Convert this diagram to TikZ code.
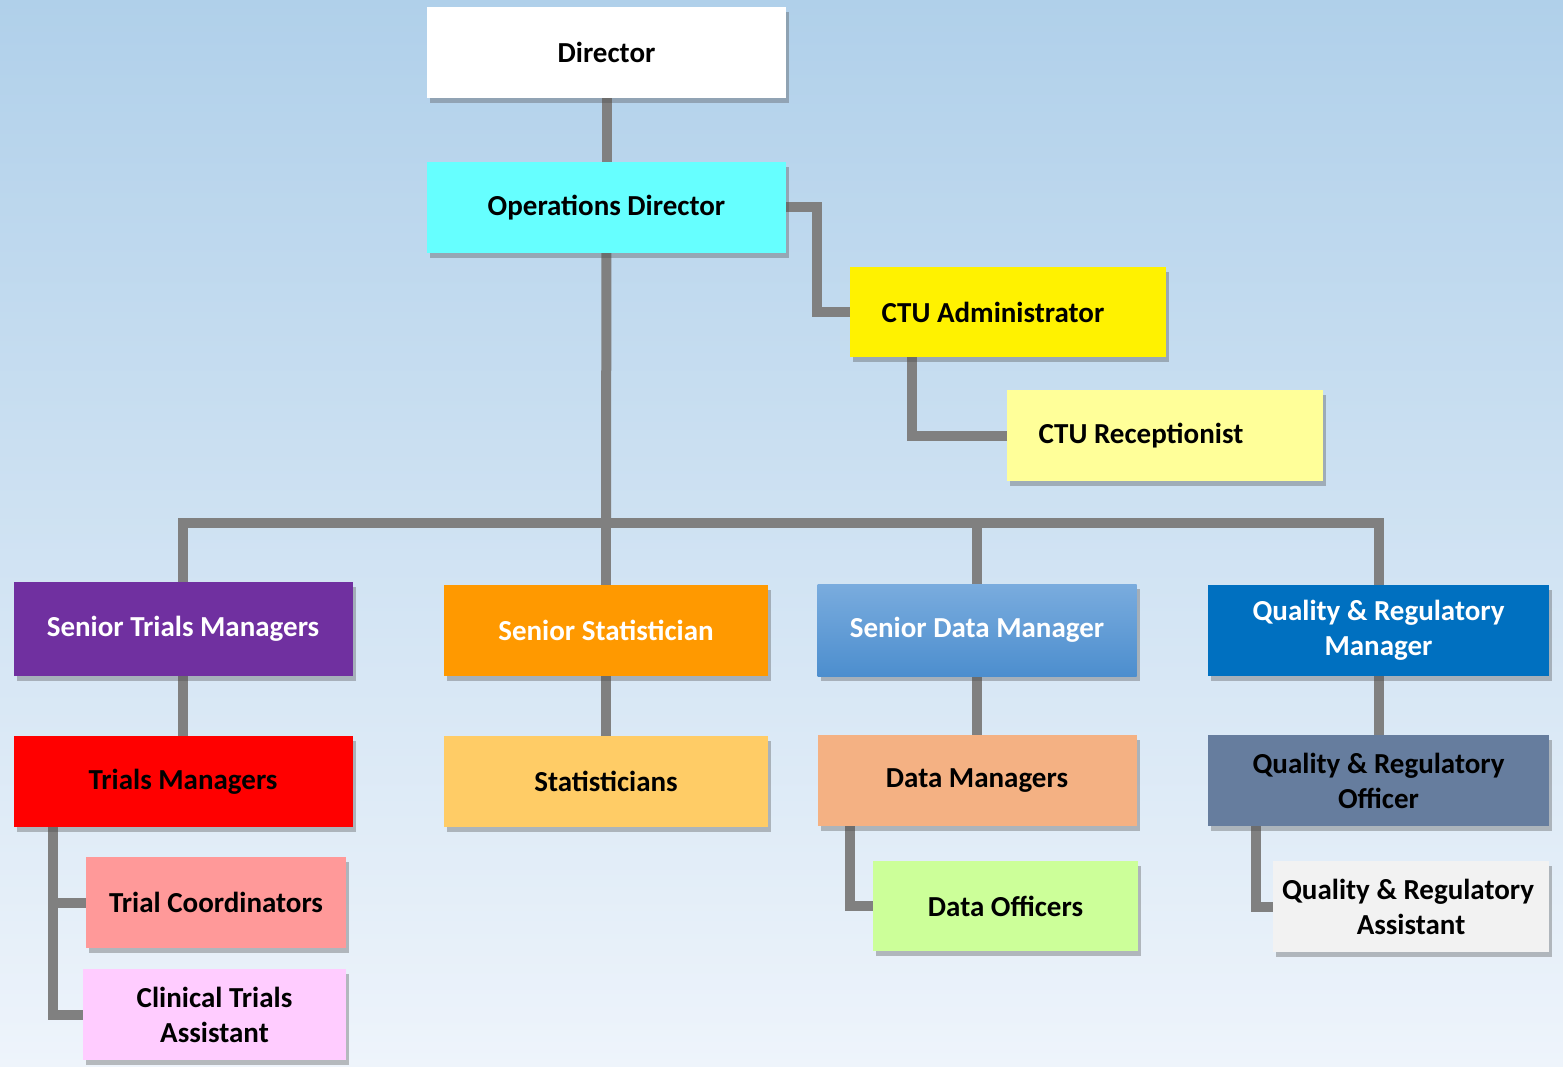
\documentclass[tikz,border=0pt]{standalone}
\usepackage{fontspec}
\setmainfont{Carlito}
\usetikzlibrary{shadows}
\pgfdeclarelayer{bg}
\pgfdeclarelayer{links}
\pgfsetlayers{bg,links,main}
\definecolor{skytop}{RGB}{176,208,234}
\definecolor{skybot}{RGB}{238,244,251}
\definecolor{linkgray}{RGB}{128,128,128}
\definecolor{opscyan}{RGB}{102,255,255}
\definecolor{paleyellow}{RGB}{255,255,153}
\definecolor{stmpurple}{RGB}{112,48,160}
\definecolor{ssorange}{RGB}{255,153,0}
\definecolor{sdmtop}{RGB}{122,172,222}
\definecolor{sdmbot}{RGB}{76,142,206}
\definecolor{qrmblue}{RGB}{0,112,192}
\definecolor{statsgold}{RGB}{255,204,102}
\definecolor{dmpeach}{RGB}{244,177,131}
\definecolor{qroslate}{RGB}{102,125,158}
\definecolor{tcpink}{RGB}{255,153,153}
\definecolor{ctalilac}{RGB}{255,204,255}
\definecolor{dolime}{RGB}{204,255,153}
\definecolor{qragray}{RGB}{242,242,242}
\tikzset{
  post/.style={rectangle, inner sep=0pt, minimum height=91pt, align=center,
    font=\bfseries\fontsize{29}{35}\selectfont,
    drop shadow={shadow xshift=3pt, shadow yshift=-5pt, opacity=.35, fill=black!70}},
  link/.style={draw=linkgray, line width=10pt}
}
\begin{document}
\begin{tikzpicture}[x=1pt, y=-1pt]
    % background
    \begin{pgfonlayer}{bg}
        \shade[top color=skytop, bottom color=skybot] (0, 0) rectangle (1563, 1067);
    \end{pgfonlayer}
    \useasboundingbox (0, 0) rectangle (1563, 1067);

    % top
    \node[post, fill=white, minimum width=359pt] (dir) at (606.5, 52.5) {Director};
    \node[post, fill=opscyan, minimum width=359pt] (ops) at (606.5, 207.5) {Operations Director};
    \node[post, fill=yellow, minimum width=316pt, minimum height=90pt] (admin) at (1008, 312) {\hspace*{-30pt}CTU Administrator};
    \node[post, fill=paleyellow, minimum width=316pt] (recep) at (1165, 435.5) {\hspace*{-48pt}CTU Receptionist};

    % senior row
    \node[post, fill=stmpurple, text=white, minimum width=339pt, minimum height=94pt] (stm) at (183, 629) {Senior Trials Managers};
    \node[post, fill=ssorange, text=white, minimum width=324pt] (ss) at (606, 630.5) {Senior Statistician};
    \node[post, top color=sdmtop, bottom color=sdmbot, text=white, minimum width=319pt, minimum height=92pt] (sdm) at (977, 630) {Senior Data Manager};
    \node[post, fill=qrmblue, text=white, minimum width=341pt] (qrm) at (1378.5, 630.5) {Quality \& Regulatory\\Manager};

    % second row
    \node[post, fill=red, minimum width=339pt] (tm) at (183, 781.5) {Trials Managers};
    \node[post, fill=statsgold, minimum width=324pt] (stats) at (606, 781.5) {Statisticians};
    \node[post, fill=dmpeach, minimum width=319pt] (dm) at (977, 780.5) {Data Managers};
    \node[post, fill=qroslate, minimum width=341pt] (qro) at (1378.5, 780.5) {Quality \& Regulatory\\Officer};

    % third row
    \node[post, fill=tcpink, minimum width=260pt] (tc) at (216, 902.5) {Trial Coordinators};
    \node[post, fill=ctalilac, minimum width=263pt] (cta) at (214.5, 1014.5) {Clinical Trials\\Assistant};
    \node[post, fill=dolime, minimum width=265pt, minimum height=90pt] (do) at (1005.5, 906) {Data Officers};
    \node[post, fill=qragray, minimum width=276pt] (qra) at (1411, 906.5) {\hspace*{-6pt}Quality \& Regulatory\\Assistant};

    \coordinate (bus) at (606, 523);

    % links
    \begin{pgfonlayer}{links}
        \draw[link] (dir) -- (ops);
        \draw[link] (ops.east) -- ++(31, 0) |- (admin.west);
        \draw[link] (admin.south west) ++(62, 0) |- (recep.west);
        \draw[link] (ops) -- (bus);
        \draw[link] (stm) |- (bus) -| (qrm);
        \draw[link] (bus) -- (ss);
        \draw[link] (sdm) |- (bus);
        \draw[link] (stm) -- (tm);
        \draw[link] (ss) -- (stats);
        \draw[link] (sdm) -- (dm);
        \draw[link] (qrm) -- (qro);
        \draw[link] (tm.south west) ++(40, 0) |- (tc.west);
        \draw[link] (tm.south west) ++(40, 0) |- (cta.west);
        \draw[link] (dm.south west) ++(33, 0) |- (do.west);
        \draw[link] (qro.south west) ++(48, 0) |- (qra.west);
    \end{pgfonlayer}
\end{tikzpicture}
\end{document}
